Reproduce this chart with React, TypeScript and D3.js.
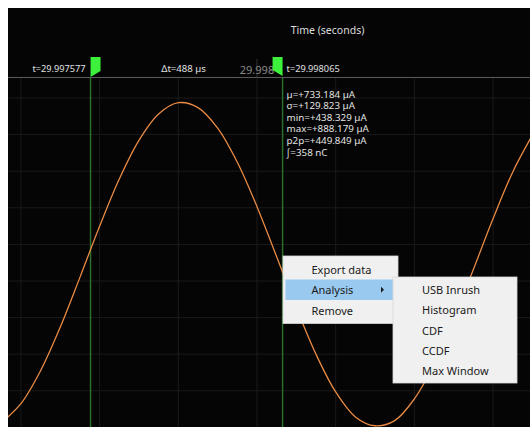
import React from "react";
import * as d3 from "d3";

// ---- data (time offsets in µs relative to 29.998 s, current in µA) ----
const timeUs = [-650, -600, -550, -500, -450, -400, -350, -300, -250, -200, -150, -100, -50, 0, 50, 100, 150, 200, 250, 300, 350, 400, 450, 500, 550, 600, 650, 700];
const currentUA = [12.9, 64.9, 154.9, 273.9, 409.9, 549.5, 678.5, 784.3, 856.3, 887.1, 873.8, 817.7, 724.4, 603.1, 466.1, 327, 199.6, 96.8, 28.7, 4.5, 18.5, 78.1, 172.7, 296.1, 432, 570.5, 698, 798.7];

const gridTimesUs = [-600, -400, -200, 0, 200, 400, 600];
const gridCurrentUA = [100, 200, 300, 400, 500, 600, 700, 800, 900];
const tickLabelTimeUs = [0];
const tickLabels = ["29.998"];

const cursorTimesUs = [-423, 65];
const cursorLabels = ["t=29.997577", "t=29.998065"];
const deltaLabel = "Δt=488 µs";
const axisTitle = "Time (seconds)";

const statsLines = ["µ=+733.184 µA", "σ=+129.823 µA", "min=+438.329 µA", "max=+888.179 µA", "p2p=+449.849 µA", "∫=358 nC"];
const menuItems = ["Export data", "Analysis", "Remove"];
const subMenuItems = ["USB Inrush", "Histogram", "CDF", "CCDF", "Max Window"];

const W = 530;
const H = 427;
const L = 8;
const T = 8;
const axisY = 77.5;
const font = "'Noto Sans', 'Open Sans', sans-serif";

export default function App() {
  const x = d3.scaleLinear().domain([0, 200]).range([257, 335.7]);
  const y = d3.scaleLinear().domain([0, 900]).range([427.4, 98]);
  const line = d3
    .line<number>()
    .x((_, i) => x(timeUs[i]))
    .y((d) => y(d))
    .curve(d3.curveCatmullRom);

  const cx = cursorTimesUs.map((t) => x(t));
  const flagTop = 57;
  const flagBot = 77;

  // menu layout
  const m = { x: 283, y: 256, w: 115, rowH: 20.5, pad: 3 };
  const sm = { x: 393, y: 277, w: 124, rowH: 20.2, pad: 2.5 };

  return (
    <svg
      width={W}
      height={H}
      style={{ position: "fixed", left: 0, top: 0, display: "block" }}
      fontFamily={font}
    >
      <rect x={0} y={0} width={W} height={H} fill="#ffffff" />
      <rect x={L} y={T} width={W - L} height={H - T} fill="#050505" />
      <defs>
        <clipPath id="plot">
          <rect x={L} y={axisY} width={W - L} height={H - axisY} />
        </clipPath>
      </defs>

      {/* grid */}
      <g clipPath="url(#plot)">
        {gridTimesUs.map((t) => (
          <line key={"gx" + t} x1={x(t)} x2={x(t)} y1={axisY} y2={H} stroke="#1a1a1a" strokeWidth={1} />
        ))}
        {gridCurrentUA.map((v) => (
          <line key={"gy" + v} x1={L} x2={W} y1={y(v)} y2={y(v)} stroke="#1a1a1a" strokeWidth={1} />
        ))}
      </g>

      {/* axis separator */}
      <line x1={L} x2={W} y1={axisY} y2={axisY} stroke="#5a5a5a" strokeWidth={1.2} />

      {/* axis title */}
      <text x={327.5} y={30} fill="#dcdcdc" fontSize={10.5} textAnchor="middle" dominantBaseline="central">
        {axisTitle}
      </text>

      {/* tick labels */}
      {tickLabelTimeUs.map((t, i) => (
        <g key={"tl" + t}>
          <line x1={x(t)} x2={x(t)} y1={59} y2={axisY} stroke="#333" strokeWidth={1} />
          <text x={x(t)} y={69} fill="#8a8a8a" fontSize={11} textAnchor="middle" dominantBaseline="central">
            {tickLabels[i]}
          </text>
        </g>
      ))}

      {/* cursors */}
      {cx.map((xx, i) => (
        <line key={"c" + i} x1={xx} x2={xx} y1={axisY} y2={H} stroke="#2c6e2c" strokeWidth={1.5} />
      ))}

      {/* waveform */}
      <g clipPath="url(#plot)">
        <path d={line(currentUA) || ""} fill="none" stroke="#e98a44" strokeWidth={1.3} />
      </g>

      {/* flags */}
      <polygon
        points={`${cx[0]},${flagTop} ${cx[0] + 10},${flagTop} ${cx[0] + 10},${flagBot - 6} ${cx[0]},${flagBot}`}
        fill="#3cf03c"
      />
      <polygon
        points={`${cx[1] - 10},${flagTop} ${cx[1]},${flagTop} ${cx[1]},${flagBot - 1} ${cx[1] - 10},${flagBot - 7}`}
        fill="#3cf03c"
      />
      <text x={cx[0] - 5} y={68} fill="#e0e0e0" fontSize={9.2} textAnchor="end" dominantBaseline="central">
        {cursorLabels[0]}
      </text>
      <text x={cx[1] + 4} y={68} fill="#e0e0e0" fontSize={9.2} textAnchor="start" dominantBaseline="central">
        {cursorLabels[1]}
      </text>
      <text x={(cx[0] + cx[1]) / 2 - 3} y={68} fill="#e0e0e0" fontSize={9.6} textAnchor="middle" dominantBaseline="central">
        {deltaLabel}
      </text>

      {/* statistics */}
      {statsLines.map((s, i) => (
        <text key={"s" + i} x={cx[1] + 4} y={94 + i * 11.6} fill="#e2e2e2" fontSize={9.8} dominantBaseline="central">
          {s}
        </text>
      ))}

      {/* context menu */}
      <rect x={m.x} y={m.y} width={m.w} height={m.rowH * menuItems.length + m.pad * 2} fill="#f0f0f0" stroke="#d8d8d8" strokeWidth={0.8} />
      <rect x={m.x + 2.5} y={m.y + m.pad + m.rowH} width={m.w - 5} height={m.rowH} fill="#99c9ef" />
      {menuItems.map((s, i) => (
        <text key={"m" + i} x={m.x + 28.5} y={m.y + m.pad + m.rowH * (i + 0.5)} fill="#1a1a1a" fontSize={11} dominantBaseline="central">
          {s}
        </text>
      ))}
      <polygon
        points={`${m.x + 98},${m.y + m.pad + m.rowH * 1.5 - 3} ${m.x + 101},${m.y + m.pad + m.rowH * 1.5} ${m.x + 98},${m.y + m.pad + m.rowH * 1.5 + 3}`}
        fill="#1a1a1a"
      />

      {/* sub menu */}
      <rect x={sm.x} y={sm.y} width={sm.w} height={sm.rowH * subMenuItems.length + sm.pad * 2} fill="#f0f0f0" stroke="#d8d8d8" strokeWidth={0.8} />
      {subMenuItems.map((s, i) => (
        <text key={"sm" + i} x={sm.x + 29} y={sm.y + sm.pad + sm.rowH * (i + 0.5)} fill="#1a1a1a" fontSize={11} dominantBaseline="central">
          {s}
        </text>
      ))}
    </svg>
  );
}
